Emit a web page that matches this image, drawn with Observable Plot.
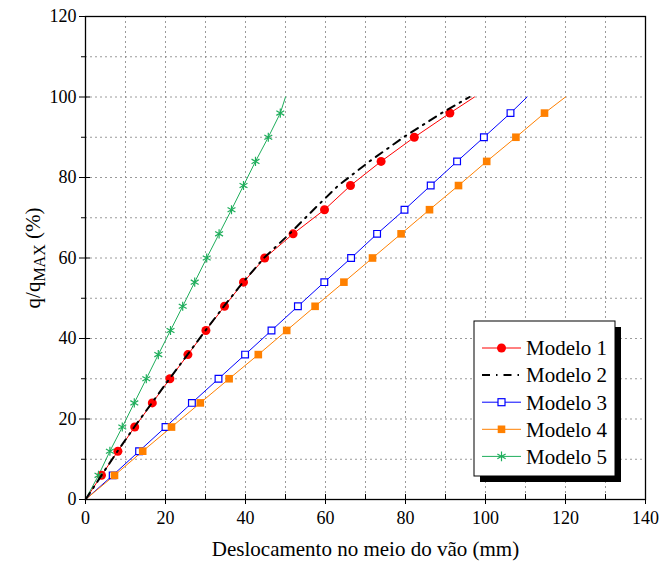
<!DOCTYPE html>
<html><head><meta charset="utf-8">
<script src="https://cdn.jsdelivr.net/npm/d3@7"></script>
<script src="https://cdn.jsdelivr.net/npm/@observablehq/plot@0.6"></script>
<style>body{margin:0;background:#fff} #chart{width:662px;height:572px} #chart svg text{font-family:'Liberation Serif','Times New Roman',serif}</style>
</head><body><div id="chart"></div>
<script>
// Load level q/qMAX (%) shared by all models
const loads = [0,6,12,18,24,30,36,42,48,54,60,66,72,78,84,90,96,100];
// Mid-span displacement (mm) per model
const modelo1 = [0,4,8.1,12.3,16.7,21.1,25.6,30.1,34.75,39.5,44.8,51.9,59.75,66.25,73.9,82.2,91.1,97.25];
const modelo2 = [0,4,8,12.2,16.6,21,25.5,30,34.6,39.4,44.6,51,57,63.2,71,79.5,89,96];
const modelo3 = [0,6.8,13.4,20,26.6,33.25,39.9,46.5,53.1,59.7,66.4,72.9,79.75,86.3,92.9,99.6,106.25,110.4];
const modelo4 = [0,7.25,14.3,21.5,28.7,35.9,43.2,50.3,57.4,64.6,71.75,78.9,86,93.25,100.3,107.6,114.75,120];
const modelo5 = [0,3.25,6.1,9.2,12.2,15.2,18.2,21.25,24.3,27.3,30.3,33.4,36.5,39.5,42.5,45.7,48.7,50];
const seriesNames = ["Modelo 1","Modelo 2","Modelo 3","Modelo 4","Modelo 5"];
const xTicks = [0,20,40,60,80,100,120,140];
const yTicks = [0,20,40,60,80,100,120];

const colors = {"Modelo 1":"#ff0000","Modelo 2":"#000000","Modelo 3":"#0000ff","Modelo 4":"#ff8000","Modelo 5":"#1fae5c"};
const allX = [modelo1, modelo2, modelo3, modelo4, modelo5];
const rows = [];
seriesNames.forEach((s, i) => allX[i].forEach((x, j) => rows.push({serie: s, x, y: loads[j], idx: j})));
const of = s => rows.filter(d => d.serie === s);
const markersOf = s => of(s).filter(d => d.idx > 0 && d.y < 100);

const font = "'Liberation Serif', 'Times New Roman', serif";
const gridStyle = {stroke: "#888", strokeOpacity: 0.85, strokeDasharray: "2,3", strokeWidth: 1};
const dashDot = "8,6,1.5,6";

const chart = Plot.plot({
  width: 662, height: 572,
  marginLeft: 85, marginRight: 17, marginTop: 16, marginBottom: 73,
  style: {fontFamily: font, background: "#fff"},
  x: {domain: [0, 140]},
  y: {domain: [0, 120]},
  marks: [
    Plot.gridX(d3.range(10, 140, 10), gridStyle),
    Plot.gridY(d3.range(10, 120, 10), gridStyle),
    Plot.line(of("Modelo 1"), {x: "x", y: "y", stroke: colors["Modelo 1"], strokeWidth: 1}),
    Plot.line(of("Modelo 3"), {x: "x", y: "y", stroke: colors["Modelo 3"], strokeWidth: 1}),
    Plot.line(of("Modelo 4"), {x: "x", y: "y", stroke: colors["Modelo 4"], strokeWidth: 1}),
    Plot.line(of("Modelo 5"), {x: "x", y: "y", stroke: colors["Modelo 5"], strokeWidth: 1}),
    Plot.dot(markersOf("Modelo 1"), {x: "x", y: "y", r: 4.5, fill: colors["Modelo 1"], stroke: "none"}),
    Plot.dot(markersOf("Modelo 3"), {x: "x", y: "y", r: 3.8, symbol: "square", fill: "#fff", stroke: colors["Modelo 3"], strokeWidth: 1.2}),
    Plot.dot(markersOf("Modelo 4"), {x: "x", y: "y", r: 4.3, symbol: "square", fill: colors["Modelo 4"], stroke: "none"}),
    Plot.dot(markersOf("Modelo 5"), {x: "x", y: "y", r: 4.3, symbol: "asterisk", stroke: colors["Modelo 5"], strokeWidth: 1.2}),
    Plot.line(of("Modelo 2"), {x: "x", y: "y", stroke: "#000", strokeWidth: 2, strokeDasharray: dashDot}),
    Plot.frame({stroke: "#000", strokeWidth: 1.3}),
    Plot.axisX({ticks: xTicks, tickSize: 5, tickPadding: 7, fontSize: 18, label: null, tickFormat: d3.format("d")}),
    Plot.axisX({ticks: xTicks, tickSize: -5, text: null, label: null}),
    Plot.axisX({ticks: d3.range(10, 140, 20), tickSize: -5, text: null, label: null}),
    Plot.axisY({ticks: yTicks, tickSize: 6, tickPadding: 3, fontSize: 18, label: null, tickFormat: d3.format("d")}),
    Plot.axisY({ticks: yTicks, tickSize: -5, text: null, label: null}),
    Plot.axisY({ticks: d3.range(10, 120, 20), tickSize: 4, text: null, label: null}),
    Plot.text(["Deslocamento no meio do vão (mm)"], {frameAnchor: "bottom", dy: 56, fontSize: 21, fill: "#000"})
  ]
});

const svg = d3.select(chart);
svg.selectAll("text").attr("fill", "#000");
svg.selectAll("[aria-label^='x-axis tick'] path, [aria-label^='y-axis tick'] path").attr("stroke", "#000");

// y-axis title with subscript
const yl = svg.append("text")
  .attr("transform", "translate(40,258) rotate(-90)")
  .attr("text-anchor", "middle")
  .attr("font-size", 21).attr("fill", "#000");
yl.append("tspan").text("q/q");
yl.append("tspan").attr("dy", 5).attr("font-size", 16).text("MAX");
yl.append("tspan").attr("dy", -5).text(" (%)");

// legend
const lg = svg.append("g").attr("transform", "translate(474,321)");
lg.append("rect").attr("x", 6).attr("y", 6).attr("width", 141).attr("height", 155).attr("fill", "#000");
lg.append("rect").attr("x", 0).attr("y", 0).attr("width", 141).attr("height", 155).attr("fill", "#fff").attr("stroke", "#000").attr("stroke-width", 1);
seriesNames.forEach((s, i) => {
  const yy = 27 + i * 27.1;
  const c = colors[s];
  const g = lg.append("g").attr("transform", `translate(0,${yy})`);
  const ln = g.append("line").attr("x1", 8).attr("x2", 47).attr("y1", 0).attr("y2", 0).attr("stroke", c).attr("stroke-width", i === 1 ? 2 : 1);
  if (i === 1) ln.attr("stroke-dasharray", dashDot);
  if (i === 0) g.append("circle").attr("cx", 27.5).attr("cy", 0).attr("r", 4.5).attr("fill", c);
  if (i === 2) g.append("rect").attr("x", 24).attr("y", -3.5).attr("width", 7).attr("height", 7).attr("fill", "#fff").attr("stroke", c).attr("stroke-width", 1.2);
  if (i === 3) g.append("rect").attr("x", 23.7).attr("y", -3.8).attr("width", 7.6).attr("height", 7.6).attr("fill", c);
  if (i === 4) g.append("path").attr("transform", "translate(27.5,0)").attr("d", d3.symbol(d3.symbolAsterisk, 64)()).attr("stroke", c).attr("stroke-width", 1.2).attr("fill", "none");
  g.append("text").attr("x", 52).attr("y", 0).attr("dy", "0.35em").attr("text-anchor", "start").attr("font-size", 21).attr("fill", "#000").text(s);
});

document.getElementById("chart").appendChild(chart);
</script>
</body></html>
